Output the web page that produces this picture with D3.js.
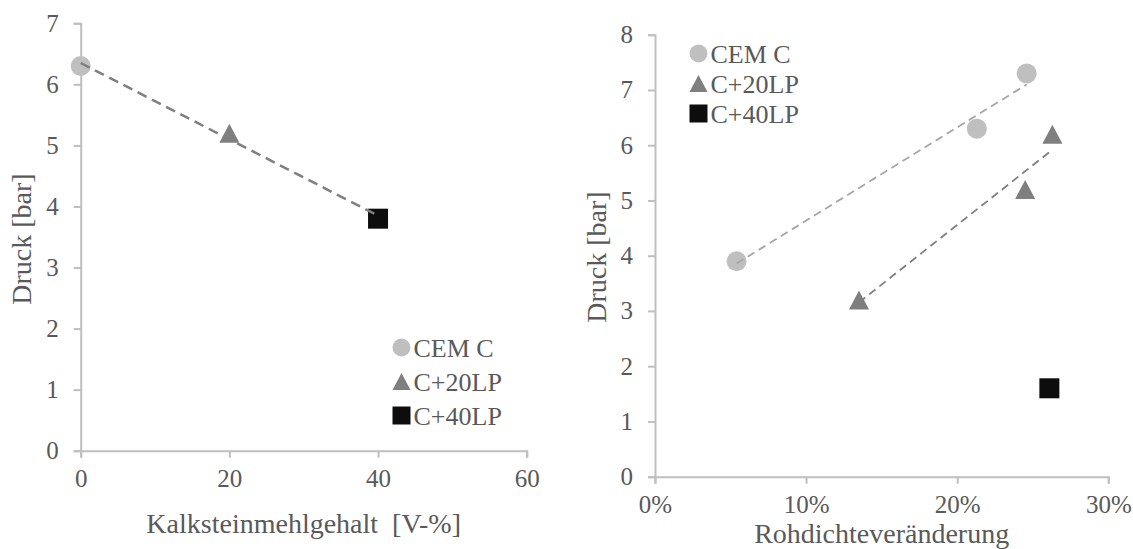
<!DOCTYPE html>
<html>
<head>
<meta charset="utf-8">
<script src="https://cdn.jsdelivr.net/npm/d3@7"></script>
<style>
  html, body { margin: 0; padding: 0; background: #fff; }
  svg { display: block; }
  svg text { font-family: "Liberation Serif", "DejaVu Serif", serif; fill: #595959; }
</style>
</head>
<body>
<svg id="chart" width="1133" height="549"></svg>
<script>
// ---- Data ----
const seriesNames = ["CEM C", "C+20LP", "C+40LP"];

// Left panel: pressure vs limestone content [V-%]
const leftX = [0, 20, 40];
const leftY = [6.3, 5.2, 3.8];
const leftXTicks = [0, 20, 40, 60];
const leftYTicks = [0, 1, 2, 3, 4, 5, 6, 7];

// Right panel: pressure vs change of bulk density
const cemX = [0.054, 0.213, 0.246];
const cemY = [3.9, 6.3, 7.3];
const lp20X = [0.135, 0.245, 0.263];
const lp20Y = [3.2, 5.2, 6.2];
const lp40X = [0.261];
const lp40Y = [1.6];
const rightXTicks = [0, 0.1, 0.2, 0.3];
const rightYTicks = [0, 1, 2, 3, 4, 5, 6, 7, 8];

// ---- Styles ----
const FONT = '"Liberation Serif", "DejaVu Serif", serif';
const markerFill = { "CEM C": "#bfbfbf", "C+20LP": "#7f7f7f", "C+40LP": "#0d0d0d" };
const markerShape = { "CEM C": "circle", "C+20LP": "triangle", "C+40LP": "square" };
const axisColor = "#bfbfbf";

const svg = d3.select("#chart");

// marker path centred on (0,0); s = nominal width
function markerPath(shape, s) {
  const h = s / 2;
  if (shape === "circle") {
    const p = d3.path();
    p.arc(0, 0, h, 0, 2 * Math.PI);
    return p.toString();
  }
  if (shape === "square") {
    return `M${-h},${-h}H${h}V${h}H${-h}Z`;
  }
  const th = s * 0.95 / 2;
  return `M0,${-th}L${h},${th}L${-h},${th}Z`;
}

// least squares fit returning [slope, intercept]
function linFit(xs, ys) {
  const mx = d3.mean(xs), my = d3.mean(ys);
  let sxy = 0, sxx = 0;
  xs.forEach((x, i) => { sxy += (x - mx) * (ys[i] - my); sxx += (x - mx) * (x - mx); });
  const m = sxy / sxx;
  return [m, my - m * mx];
}

function styleAxis(g) {
  g.attr("font-family", FONT).attr("font-size", 25);
  g.select(".domain").attr("stroke", axisColor).attr("stroke-width", 2);
  g.selectAll(".tick line").attr("stroke", axisColor).attr("stroke-width", 2);
  g.selectAll(".tick text")
    .attr("fill", "#595959")
    .style("font-family", FONT)
    .style("font-size", "25px");
}

function drawPanel(cfg) {
  const g = svg.append("g");
  const x = d3.scaleLinear().domain(cfg.xDomain).range([cfg.left, cfg.right]);
  const y = d3.scaleLinear().domain(cfg.yDomain).range([cfg.bottom, cfg.top]);

  const xa = g.append("g")
    .attr("transform", `translate(0,${cfg.bottom})`)
    .call(d3.axisBottom(x).tickValues(cfg.xTicks).tickFormat(cfg.xFormat)
      .tickSize(7).tickSizeOuter(7).tickPadding(cfg.xPad));
  styleAxis(xa);

  const ya = g.append("g")
    .attr("transform", `translate(${cfg.left},0)`)
    .call(d3.axisLeft(y).tickValues(cfg.yTicks).tickFormat(d3.format("d"))
      .tickSize(7).tickSizeOuter(7).tickPadding(15));
  styleAxis(ya);

  // markers
  cfg.series.filter(s => !s.noMarker).forEach(s => {
    g.append("g").selectAll("path")
      .data(s.xs.map((v, i) => [v, s.ys[i]]))
      .join("path")
      .attr("d", markerPath(markerShape[s.name], 20))
      .attr("transform", d => `translate(${x(d[0])},${y(d[1])})`)
      .attr("fill", markerFill[s.name]);
  });

  // linear trendlines drawn over the markers
  cfg.series.filter(s => s.trend).forEach(s => {
    const [m, b] = linFit(s.xs, s.ys);
    const x0 = d3.min(s.xs), x1 = d3.max(s.xs);
    g.append("line")
      .attr("x1", x(x0)).attr("y1", y(m * x0 + b))
      .attr("x2", x(x1)).attr("y2", y(m * x1 + b))
      .attr("stroke", s.trend.color)
      .attr("stroke-width", s.trend.width)
      .attr("stroke-dasharray", s.trend.dash);
  });

  // axis titles
  g.append("text")
    .attr("x", (cfg.left + cfg.right) / 2)
    .attr("y", cfg.xTitleY)
    .attr("text-anchor", "middle")
    .attr("xml:space", "preserve")
    .style("white-space", "pre")
    .style("font-family", FONT)
    .style("font-size", "28px")
    .text(cfg.xTitle);

  g.append("text")
    .attr("transform", `translate(${cfg.yTitleX},${cfg.yTitleCY}) rotate(-90)`)
    .attr("text-anchor", "middle")
    .style("font-family", FONT)
    .style("font-size", "28px")
    .text("Druck [bar]");

  // legend
  const lg = g.append("g").attr("transform", `translate(${cfg.legendX},${cfg.legendY})`);
  seriesNames.forEach((name, i) => {
    const row = lg.append("g").attr("transform", `translate(0,${i * cfg.legendStep})`);
    row.append("path")
      .attr("d", markerPath(markerShape[name], 18))
      .attr("fill", markerFill[name]);
    row.append("text")
      .attr("x", 12)
      .attr("y", 9)
      .style("font-family", FONT)
      .style("font-size", "26px")
      .text(name);
  });
}

// Left panel
drawPanel({
  left: 80.7, right: 526.7, top: 23.3, bottom: 450.7,
  xDomain: [0, 60], yDomain: [0, 7],
  xTicks: leftXTicks, yTicks: leftYTicks,
  xFormat: d3.format("d"), xPad: 12,
  xTitle: "Kalksteinmehlgehalt  [V-%]", xTitleY: 533,
  yTitleX: 31, yTitleCY: 239,
  series: [
    { name: "CEM C", xs: [leftX[0]], ys: [leftY[0]] },
    { name: "C+20LP", xs: [leftX[1]], ys: [leftY[1]] },
    { name: "C+40LP", xs: [leftX[2]], ys: [leftY[2]] },
    { name: "trend", xs: leftX, ys: leftY, noMarker: true,
      trend: { color: "#7f7f7f", width: 2.5, dash: "10,6" } }
  ],
  legendX: 401.5, legendY: 347.5, legendStep: 34
});

// Right panel
drawPanel({
  left: 655, right: 1108.3, top: 34.7, bottom: 476.7,
  xDomain: [0, 0.3], yDomain: [0, 8],
  xTicks: rightXTicks, yTicks: rightYTicks,
  xFormat: d3.format(".0%"), xPad: 12,
  xTitle: "Rohdichteveränderung", xTitleY: 543,
  yTitleX: 606, yTitleCY: 257,
  series: [
    { name: "CEM C", xs: cemX, ys: cemY,
      trend: { color: "#a6a6a6", width: 1.8, dash: "8,5" } },
    { name: "C+20LP", xs: lp20X, ys: lp20Y,
      trend: { color: "#7f7f7f", width: 1.8, dash: "8,5" } },
    { name: "C+40LP", xs: lp40X, ys: lp40Y }
  ],
  legendX: 698.5, legendY: 53.5, legendStep: 30
});
</script>
</body>
</html>
